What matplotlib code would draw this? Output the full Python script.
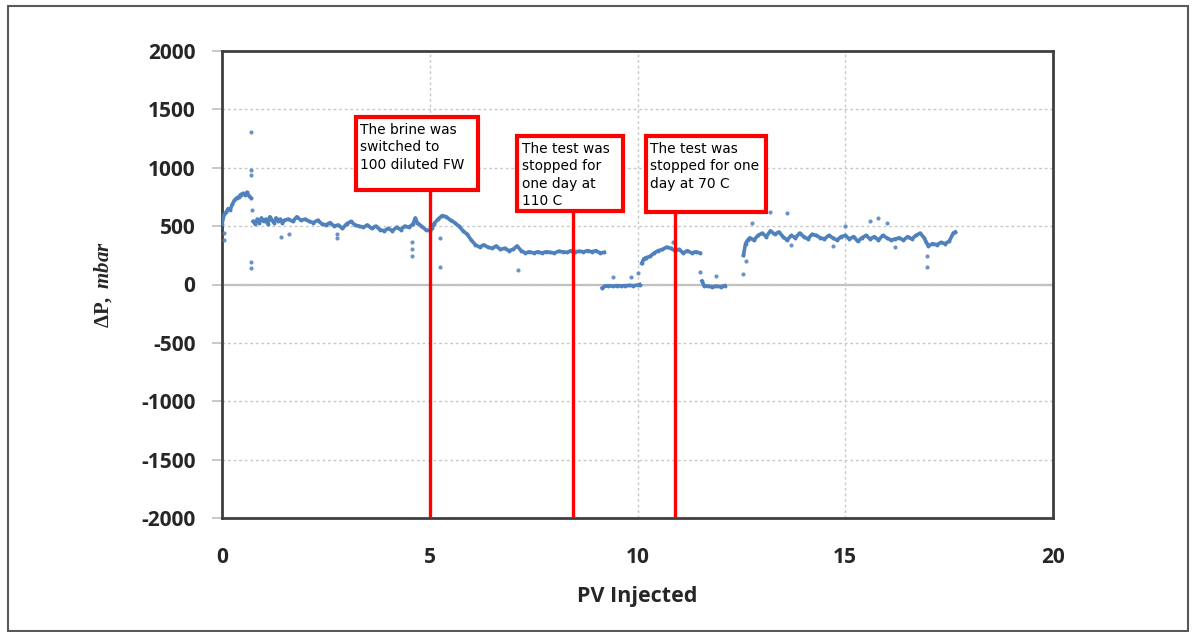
import numpy as np
import matplotlib
matplotlib.use("Agg")
import matplotlib.pyplot as plt
from matplotlib.patches import Rectangle

# ── main trace of dP vs PV injected ──
seg_a_x = [0.0, 0.05, 0.1, 0.15, 0.2, 0.25, 0.3, 0.35, 0.4, 0.45, 0.5, 0.55, 0.6, 0.65, 0.7]
seg_a_y = [520, 600, 620, 650, 640, 690, 720, 740, 750, 770, 780, 770, 790, 760, 740]

seg_b_x = [0.75, 0.8, 0.85, 0.9, 0.95, 1.0, 1.05, 1.1, 1.15, 1.2, 1.25, 1.3, 1.35, 1.4,
           1.45, 1.5, 1.6, 1.7, 1.8, 1.9, 2.0, 2.1, 2.2, 2.3, 2.4, 2.5, 2.6, 2.7, 2.8,
           2.9, 3.0, 3.1, 3.2, 3.3, 3.4, 3.5, 3.6, 3.7, 3.8, 3.9, 4.0, 4.1, 4.2, 4.3,
           4.4, 4.5, 4.6, 4.65, 4.7, 4.8, 4.9, 5.0]
seg_b_y = [540, 520, 560, 530, 570, 540, 560, 520, 580, 550, 530, 570, 540, 560,
           530, 550, 560, 540, 580, 550, 560, 540, 530, 550, 520, 510, 530, 500, 510,
           480, 520, 540, 510, 500, 490, 510, 480, 500, 470, 460, 480, 460, 490, 470,
           500, 490, 520, 570, 530, 500, 470, 460]

seg_c_x = [5.05, 5.1, 5.2, 5.3, 5.4, 5.5, 5.6, 5.7, 5.8, 5.9, 6.0, 6.1, 6.2, 6.3, 6.4,
           6.5, 6.6, 6.7, 6.8, 6.9, 7.0, 7.1, 7.2, 7.3, 7.4, 7.5, 7.6, 7.7, 7.8, 7.9,
           8.0, 8.1, 8.2, 8.3, 8.4, 8.5, 8.6, 8.7, 8.8, 8.9, 9.0, 9.1, 9.2]
seg_c_y = [480, 520, 560, 590, 580, 550, 530, 500, 460, 430, 380, 340, 320, 340, 320,
           310, 330, 300, 310, 290, 300, 330, 290, 270, 280, 270, 280, 270, 280, 275,
           270, 285, 280, 275, 290, 280, 285, 280, 290, 280, 290, 270, 275]

seg_d_x = [9.15, 9.2, 9.3, 9.4, 9.5, 9.6, 9.7, 9.8, 9.9, 10.0, 10.05]
seg_d_y = [-30, -15, -10, -15, -10, -12, -10, -8, -10, -5, 0]

seg_e_x = [10.1, 10.15, 10.2, 10.3, 10.4, 10.5, 10.6, 10.7, 10.8, 10.9, 11.0, 11.1,
           11.2, 11.3, 11.4, 11.5]
seg_e_y = [180, 220, 230, 240, 270, 290, 300, 320, 310, 290, 300, 270, 290, 270, 280, 270]

seg_f_x = [11.55, 11.6, 11.7, 11.8, 11.9, 12.0, 12.1]
seg_f_y = [30, -10, -15, -20, -15, -20, -10]

seg_g_x = [12.55, 12.6, 12.65, 12.7, 12.8, 12.9, 13.0, 13.1, 13.2, 13.3, 13.4, 13.5,
           13.6, 13.7, 13.8, 13.9, 14.0, 14.1, 14.2, 14.3, 14.4, 14.5, 14.6, 14.7,
           14.8, 14.9, 15.0, 15.1, 15.2, 15.3, 15.4, 15.5, 15.6, 15.7, 15.8, 15.9,
           16.0, 16.1, 16.2, 16.3, 16.4, 16.5, 16.6, 16.7, 16.8, 16.9, 16.95, 17.0,
           17.1, 17.2, 17.3, 17.4, 17.5, 17.6, 17.65]
seg_g_y = [250, 350, 380, 400, 380, 420, 440, 410, 460, 430, 450, 410,
           380, 420, 400, 440, 410, 390, 430, 420, 400, 390, 420, 400,
           380, 410, 420, 390, 410, 370, 400, 420, 390, 410, 380, 420,
           400, 380, 390, 400, 380, 410, 390, 420, 440, 400, 360, 330,
           350, 340, 360, 350, 370, 440, 450]

# scattered single readings away from the trace
out_x = [0.7, 0.7, 0.7, 0.7, 0.7, 0.73, 0.05, 0.05, 1.42, 1.61, 2.77, 2.77, 4.57, 4.57,
         4.57, 5.25, 5.25, 7.12, 9.4, 9.85, 10.0, 10.85, 11.5, 11.9, 12.55, 12.6,
         12.75, 13.2, 13.6, 13.7, 14.7, 15.0, 15.6, 15.8, 16.0, 16.2, 16.97, 16.97]
out_y = [1310, 980, 940, 190, 140, 640, 380, 440, 410, 430, 400, 430, 360, 300,
         240, 154, 400, 128, 60, 60, 100, 360, 110, 70, 90, 200,
         530, 620, 610, 340, 330, 500, 540, 570, 530, 320, 240, 150]

# ── annotations ──
note_text = ["The brine was\nswitched to\n100 diluted FW",
             "The test was\nstopped for\none day at\n110 C",
             "The test was\nstopped for one\nday at 70 C"]
note_line_x = [5.0, 8.45, 10.9]
note_box_x0 = [3.22, 7.1, 10.2]
note_box_x1 = [6.16, 9.65, 13.09]
note_box_y0 = [812, 632, 624]
note_box_y1 = [1436, 1274, 1274]

plt.rcParams["axes.unicode_minus"] = False
plt.rcParams["mathtext.fontset"] = "custom"
plt.rcParams["mathtext.rm"] = "Liberation Serif:bold"
plt.rcParams["mathtext.it"] = "Liberation Serif:bold:italic"

blue = "#4f81bd"
red = "#ff0000"
dark = "#3f3f3f"

fig = plt.figure(figsize=(11.92, 6.32), dpi=100)
ax = fig.add_axes([222 / 1192, 1 - 518 / 632, (1053 - 222) / 1192, (518 - 51) / 632])

# outer frame of the picture
fig.patches.append(Rectangle((8 / 1192, 1 / 632), 1180 / 1192, 625 / 632,
                             transform=fig.transFigure, fill=False,
                             edgecolor="#595959", linewidth=1.5))

segments = [(seg_a_x, seg_a_y), (seg_b_x, seg_b_y), (seg_c_x, seg_c_y),
            (seg_d_x, seg_d_y), (seg_e_x, seg_e_y), (seg_f_x, seg_f_y),
            (seg_g_x, seg_g_y)]
for sx, sy in segments:
    ax.plot(sx, sy, color=blue, linewidth=2.6, marker="o", markersize=2.8,
            markeredgewidth=0, solid_joinstyle="round", zorder=3)
ax.plot(out_x, out_y, linestyle="none", marker="o", markersize=3,
        markeredgewidth=0, color=blue, alpha=0.85, zorder=3)

ax.axhline(0, color="#bfbfbf", linewidth=1.6, zorder=1)

for i, txt in enumerate(note_text):
    ax.add_patch(Rectangle((note_box_x0[i], note_box_y0[i]),
                           note_box_x1[i] - note_box_x0[i],
                           note_box_y1[i] - note_box_y0[i],
                           facecolor="white", edgecolor=red, linewidth=3, zorder=5))
    ax.text(note_box_x0[i] + 0.11, note_box_y1[i] - 50, txt, ha="left", va="top",
            fontsize=9.9, family="DejaVu Sans", linespacing=1.32, color="black", zorder=6)
    ax.plot([note_line_x[i], note_line_x[i]], [-2000, note_box_y0[i]],
            color=red, linewidth=2.4, zorder=4, solid_capstyle="butt")

ax.set_xlim(0, 20)
ax.set_ylim(-2000, 2000)
ax.set_xticks([0, 5, 10, 15, 20])
ax.set_yticks(np.arange(-2000, 2001, 500))
ax.grid(True, color="#c8c8c8", linestyle=(0, (2, 2)), linewidth=1.0, zorder=0)

for s in ax.spines.values():
    s.set_color(dark)
    s.set_linewidth(2)

ax.tick_params(axis="x", length=0, pad=21)
ax.tick_params(axis="y", length=7, width=1.2, color="#bfbfbf", pad=12)
for lab in ax.get_xticklabels() + ax.get_yticklabels():
    lab.set_fontfamily("Open Sans")
    lab.set_fontweight("bold")
    lab.set_fontsize(15)
    lab.set_color("#262626")

ax.set_xlabel("PV Injected", fontfamily="Open Sans", fontweight="bold",
              fontsize=15.5, color="#262626", labelpad=13)
ax.set_ylabel(r"$\mathrm{\Delta P,}\ \mathit{mbar}$", fontsize=15, color="#262626")
ax.yaxis.set_label_coords(-0.13, 0.5)

fig.savefig("out.png", dpi=100)
